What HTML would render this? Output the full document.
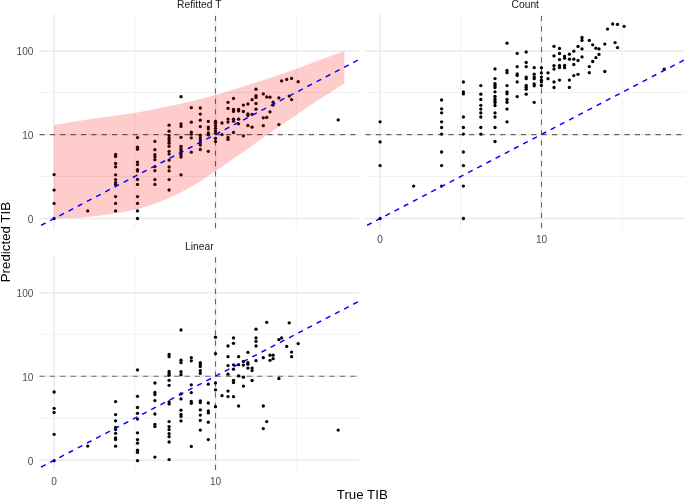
<!DOCTYPE html>
<html><head><meta charset="utf-8"><title>TIB</title>
<style>
html,body{margin:0;padding:0;background:#fff;}
svg{display:block;}
text{font-family:"Liberation Sans",Arial,Helvetica,sans-serif;}
.st{font-size:10.3px;fill:#1a1a1a;}
.ax{font-size:10.1px;fill:#4d4d4d;}
.ti{font-size:13.3px;fill:#000;}
circle{fill:#000;}
</style></head><body>
<svg width="685" height="500" viewBox="0 0 685 500">
<rect width="685" height="500" fill="#fff"/>
<g>
<line x1="134.65" x2="134.65" y1="14.2" y2="228.3" stroke="#ebebeb" stroke-width="0.7"/>
<line x1="296.20" x2="296.20" y1="14.2" y2="228.3" stroke="#ebebeb" stroke-width="0.7"/>
<line x1="39.5" x2="359.0" y1="92.50" y2="92.50" stroke="#ebebeb" stroke-width="0.7"/>
<line x1="39.5" x2="359.0" y1="176.50" y2="176.50" stroke="#ebebeb" stroke-width="0.7"/>
<line x1="54.05" x2="54.05" y1="14.2" y2="228.3" stroke="#ebebeb" stroke-width="1.5"/>
<line x1="215.50" x2="215.50" y1="14.2" y2="228.3" stroke="#ebebeb" stroke-width="1.5"/>
<line x1="39.5" x2="359.0" y1="51.00" y2="51.00" stroke="#ebebeb" stroke-width="1.5"/>
<line x1="39.5" x2="359.0" y1="134.60" y2="134.60" stroke="#ebebeb" stroke-width="1.5"/>
<line x1="39.5" x2="359.0" y1="218.60" y2="218.60" stroke="#ebebeb" stroke-width="1.5"/>
<circle cx="54.1" cy="174.6" r="1.65"/>
<circle cx="54.1" cy="190.1" r="1.65"/>
<circle cx="54.1" cy="203.4" r="1.65"/>
<circle cx="54.1" cy="218.5" r="1.65"/>
<circle cx="87.7" cy="210.9" r="1.65"/>
<circle cx="115.6" cy="154.5" r="1.65"/>
<circle cx="115.6" cy="156.5" r="1.65"/>
<circle cx="115.6" cy="163.5" r="1.65"/>
<circle cx="115.6" cy="166.8" r="1.65"/>
<circle cx="115.6" cy="174.8" r="1.65"/>
<circle cx="115.6" cy="179.6" r="1.65"/>
<circle cx="115.6" cy="182.6" r="1.65"/>
<circle cx="115.6" cy="184.6" r="1.65"/>
<circle cx="115.6" cy="196.6" r="1.65"/>
<circle cx="115.6" cy="203.4" r="1.65"/>
<circle cx="115.6" cy="210.9" r="1.65"/>
<circle cx="137.5" cy="137.6" r="1.65"/>
<circle cx="137.5" cy="147.2" r="1.65"/>
<circle cx="137.5" cy="149.3" r="1.65"/>
<circle cx="137.5" cy="162.1" r="1.65"/>
<circle cx="137.5" cy="164.6" r="1.65"/>
<circle cx="137.5" cy="169.6" r="1.65"/>
<circle cx="137.5" cy="171.0" r="1.65"/>
<circle cx="137.5" cy="179.4" r="1.65"/>
<circle cx="137.5" cy="184.4" r="1.65"/>
<circle cx="137.5" cy="196.6" r="1.65"/>
<circle cx="137.5" cy="203.4" r="1.65"/>
<circle cx="137.5" cy="210.9" r="1.65"/>
<circle cx="137.5" cy="218.5" r="1.65"/>
<circle cx="154.9" cy="141.4" r="1.65"/>
<circle cx="154.9" cy="149.7" r="1.65"/>
<circle cx="154.9" cy="154.6" r="1.65"/>
<circle cx="154.9" cy="156.8" r="1.65"/>
<circle cx="154.9" cy="159.7" r="1.65"/>
<circle cx="154.9" cy="166.6" r="1.65"/>
<circle cx="154.9" cy="170.7" r="1.65"/>
<circle cx="154.9" cy="179.6" r="1.65"/>
<circle cx="154.9" cy="184.4" r="1.65"/>
<circle cx="169.1" cy="125.2" r="1.65"/>
<circle cx="169.1" cy="131.2" r="1.65"/>
<circle cx="169.1" cy="135.6" r="1.65"/>
<circle cx="169.1" cy="138.2" r="1.65"/>
<circle cx="169.1" cy="140.7" r="1.65"/>
<circle cx="169.1" cy="143.2" r="1.65"/>
<circle cx="169.1" cy="146.3" r="1.65"/>
<circle cx="169.1" cy="151.3" r="1.65"/>
<circle cx="169.1" cy="154.1" r="1.65"/>
<circle cx="169.1" cy="160.1" r="1.65"/>
<circle cx="169.1" cy="167.0" r="1.65"/>
<circle cx="169.1" cy="170.8" r="1.65"/>
<circle cx="169.1" cy="179.6" r="1.65"/>
<circle cx="169.1" cy="190.0" r="1.65"/>
<circle cx="181.0" cy="96.7" r="1.65"/>
<circle cx="181.0" cy="123.9" r="1.65"/>
<circle cx="181.0" cy="126.4" r="1.65"/>
<circle cx="181.0" cy="137.3" r="1.65"/>
<circle cx="181.0" cy="146.3" r="1.65"/>
<circle cx="181.0" cy="148.8" r="1.65"/>
<circle cx="181.0" cy="150.7" r="1.65"/>
<circle cx="181.0" cy="153.0" r="1.65"/>
<circle cx="181.0" cy="155.1" r="1.65"/>
<circle cx="181.0" cy="157.0" r="1.65"/>
<circle cx="181.0" cy="174.8" r="1.65"/>
<circle cx="191.3" cy="107.7" r="1.65"/>
<circle cx="191.3" cy="122.2" r="1.65"/>
<circle cx="191.3" cy="132.1" r="1.65"/>
<circle cx="191.3" cy="134.2" r="1.65"/>
<circle cx="191.3" cy="137.8" r="1.65"/>
<circle cx="191.3" cy="152.2" r="1.65"/>
<circle cx="200.3" cy="108.0" r="1.65"/>
<circle cx="200.3" cy="114.1" r="1.65"/>
<circle cx="200.3" cy="120.2" r="1.65"/>
<circle cx="200.3" cy="126.6" r="1.65"/>
<circle cx="200.3" cy="135.2" r="1.65"/>
<circle cx="200.3" cy="137.6" r="1.65"/>
<circle cx="200.3" cy="140.0" r="1.65"/>
<circle cx="200.3" cy="142.6" r="1.65"/>
<circle cx="200.3" cy="145.1" r="1.65"/>
<circle cx="200.3" cy="149.5" r="1.65"/>
<circle cx="208.3" cy="121.4" r="1.65"/>
<circle cx="208.3" cy="127.1" r="1.65"/>
<circle cx="208.3" cy="128.9" r="1.65"/>
<circle cx="208.3" cy="133.0" r="1.65"/>
<circle cx="208.3" cy="134.8" r="1.65"/>
<circle cx="208.3" cy="151.3" r="1.65"/>
<circle cx="215.5" cy="121.4" r="1.65"/>
<circle cx="215.5" cy="123.2" r="1.65"/>
<circle cx="215.5" cy="125.8" r="1.65"/>
<circle cx="215.5" cy="128.3" r="1.65"/>
<circle cx="215.5" cy="130.8" r="1.65"/>
<circle cx="215.5" cy="133.3" r="1.65"/>
<circle cx="215.5" cy="138.3" r="1.65"/>
<circle cx="215.5" cy="141.6" r="1.65"/>
<circle cx="222.0" cy="123.0" r="1.65"/>
<circle cx="222.0" cy="134.6" r="1.65"/>
<circle cx="228.0" cy="102.3" r="1.65"/>
<circle cx="228.0" cy="108.4" r="1.65"/>
<circle cx="228.0" cy="119.1" r="1.65"/>
<circle cx="228.0" cy="122.1" r="1.65"/>
<circle cx="228.0" cy="137.4" r="1.65"/>
<circle cx="228.0" cy="139.4" r="1.65"/>
<circle cx="233.5" cy="98.4" r="1.65"/>
<circle cx="233.5" cy="109.5" r="1.65"/>
<circle cx="233.5" cy="111.4" r="1.65"/>
<circle cx="233.5" cy="119.2" r="1.65"/>
<circle cx="233.5" cy="121.2" r="1.65"/>
<circle cx="233.5" cy="132.4" r="1.65"/>
<circle cx="238.6" cy="109.3" r="1.65"/>
<circle cx="238.6" cy="110.9" r="1.65"/>
<circle cx="238.6" cy="119.2" r="1.65"/>
<circle cx="238.6" cy="123.8" r="1.65"/>
<circle cx="243.4" cy="105.1" r="1.65"/>
<circle cx="243.4" cy="111.5" r="1.65"/>
<circle cx="243.4" cy="135.8" r="1.65"/>
<circle cx="247.9" cy="104.0" r="1.65"/>
<circle cx="247.9" cy="113.9" r="1.65"/>
<circle cx="247.9" cy="115.4" r="1.65"/>
<circle cx="247.9" cy="125.5" r="1.65"/>
<circle cx="252.1" cy="99.7" r="1.65"/>
<circle cx="252.1" cy="114.3" r="1.65"/>
<circle cx="252.1" cy="127.2" r="1.65"/>
<circle cx="256.0" cy="89.2" r="1.65"/>
<circle cx="256.0" cy="95.7" r="1.65"/>
<circle cx="256.0" cy="97.4" r="1.65"/>
<circle cx="256.0" cy="103.5" r="1.65"/>
<circle cx="256.0" cy="109.2" r="1.65"/>
<circle cx="263.3" cy="93.9" r="1.65"/>
<circle cx="263.3" cy="117.8" r="1.65"/>
<circle cx="263.3" cy="125.7" r="1.65"/>
<circle cx="266.7" cy="97.0" r="1.65"/>
<circle cx="266.7" cy="117.4" r="1.65"/>
<circle cx="270.0" cy="97.2" r="1.65"/>
<circle cx="270.0" cy="111.8" r="1.65"/>
<circle cx="273.1" cy="102.2" r="1.65"/>
<circle cx="273.1" cy="105.1" r="1.65"/>
<circle cx="278.9" cy="97.9" r="1.65"/>
<circle cx="278.9" cy="124.6" r="1.65"/>
<circle cx="281.6" cy="80.9" r="1.65"/>
<circle cx="286.7" cy="79.4" r="1.65"/>
<circle cx="289.2" cy="96.1" r="1.65"/>
<circle cx="291.6" cy="78.4" r="1.65"/>
<circle cx="291.6" cy="99.6" r="1.65"/>
<circle cx="298.2" cy="81.7" r="1.65"/>
<circle cx="338.2" cy="119.9" r="1.65"/>
<path d="M54.0,124.9 L90.3,119.1 L134.7,112.9 L165.6,107.0 L190.8,101.6 L215.6,95.0 L240.3,87.4 L265.4,79.5 L280.0,74.5 L296.8,68.7 L315.6,61.6 L344.4,51.1 L344.4,83.6 L315.6,101.7 L296.6,114.8 L267.7,134.5 L250.0,147.2 L230.1,161.1 L215.6,171.1 L208.0,176.1 L200.5,181.1 L191.7,186.6 L180.9,192.4 L169.1,197.9 L154.8,203.7 L137.2,209.2 L115.6,213.5 L100.0,215.5 L80.0,217.8 L54.0,218.6Z" fill="#ff0000" fill-opacity="0.2"/>
<line x1="215.50" x2="215.50" y1="228.3" y2="14.2" stroke="#000" stroke-opacity="0.56" stroke-width="1.1" stroke-dasharray="5.18 5.18"/>
<line x1="39.5" x2="359.0" y1="134.60" y2="134.60" stroke="#000" stroke-opacity="0.56" stroke-width="1.1" stroke-dasharray="5.18 5.18"/>
<line x1="41.0" y1="225.41" x2="357.8" y2="60.20" stroke="#0000ff" stroke-width="1.45" stroke-dasharray="5.18 5.18"/>
<text x="199.25" y="7.6" text-anchor="middle" class="st">Refitted T</text>
</g>
<g>
<line x1="460.65" x2="460.65" y1="14.2" y2="228.3" stroke="#ebebeb" stroke-width="0.7"/>
<line x1="622.20" x2="622.20" y1="14.2" y2="228.3" stroke="#ebebeb" stroke-width="0.7"/>
<line x1="365.5" x2="685.0" y1="92.50" y2="92.50" stroke="#ebebeb" stroke-width="0.7"/>
<line x1="365.5" x2="685.0" y1="176.50" y2="176.50" stroke="#ebebeb" stroke-width="0.7"/>
<line x1="380.05" x2="380.05" y1="14.2" y2="228.3" stroke="#ebebeb" stroke-width="1.5"/>
<line x1="541.50" x2="541.50" y1="14.2" y2="228.3" stroke="#ebebeb" stroke-width="1.5"/>
<line x1="365.5" x2="685.0" y1="51.00" y2="51.00" stroke="#ebebeb" stroke-width="1.5"/>
<line x1="365.5" x2="685.0" y1="134.60" y2="134.60" stroke="#ebebeb" stroke-width="1.5"/>
<line x1="365.5" x2="685.0" y1="218.60" y2="218.60" stroke="#ebebeb" stroke-width="1.5"/>
<circle cx="380.1" cy="121.8" r="1.65"/>
<circle cx="380.1" cy="141.9" r="1.65"/>
<circle cx="380.1" cy="165.6" r="1.65"/>
<circle cx="380.1" cy="218.5" r="1.65"/>
<circle cx="413.6" cy="186.1" r="1.65"/>
<circle cx="441.6" cy="100.0" r="1.65"/>
<circle cx="441.6" cy="108.8" r="1.65"/>
<circle cx="441.6" cy="112.8" r="1.65"/>
<circle cx="441.6" cy="121.8" r="1.65"/>
<circle cx="441.6" cy="127.5" r="1.65"/>
<circle cx="441.6" cy="134.1" r="1.65"/>
<circle cx="441.6" cy="152.0" r="1.65"/>
<circle cx="441.6" cy="165.6" r="1.65"/>
<circle cx="441.6" cy="186.1" r="1.65"/>
<circle cx="463.4" cy="82.0" r="1.65"/>
<circle cx="463.4" cy="92.0" r="1.65"/>
<circle cx="463.4" cy="93.9" r="1.65"/>
<circle cx="463.4" cy="117.0" r="1.65"/>
<circle cx="463.4" cy="127.5" r="1.65"/>
<circle cx="463.4" cy="134.1" r="1.65"/>
<circle cx="463.4" cy="152.0" r="1.65"/>
<circle cx="463.4" cy="165.6" r="1.65"/>
<circle cx="463.4" cy="186.1" r="1.65"/>
<circle cx="463.4" cy="218.5" r="1.65"/>
<circle cx="480.8" cy="85.6" r="1.65"/>
<circle cx="480.8" cy="94.2" r="1.65"/>
<circle cx="480.8" cy="99.5" r="1.65"/>
<circle cx="480.8" cy="105.3" r="1.65"/>
<circle cx="480.8" cy="109.1" r="1.65"/>
<circle cx="480.8" cy="112.9" r="1.65"/>
<circle cx="480.8" cy="117.0" r="1.65"/>
<circle cx="480.8" cy="127.5" r="1.65"/>
<circle cx="480.8" cy="134.1" r="1.65"/>
<circle cx="495.0" cy="68.9" r="1.65"/>
<circle cx="495.0" cy="78.6" r="1.65"/>
<circle cx="495.0" cy="83.6" r="1.65"/>
<circle cx="495.0" cy="85.5" r="1.65"/>
<circle cx="495.0" cy="87.5" r="1.65"/>
<circle cx="495.0" cy="91.8" r="1.65"/>
<circle cx="495.0" cy="96.3" r="1.65"/>
<circle cx="495.0" cy="98.8" r="1.65"/>
<circle cx="495.0" cy="100.7" r="1.65"/>
<circle cx="495.0" cy="102.6" r="1.65"/>
<circle cx="495.0" cy="105.5" r="1.65"/>
<circle cx="495.0" cy="112.9" r="1.65"/>
<circle cx="495.0" cy="117.0" r="1.65"/>
<circle cx="495.0" cy="127.5" r="1.65"/>
<circle cx="495.0" cy="141.5" r="1.65"/>
<circle cx="507.0" cy="43.2" r="1.65"/>
<circle cx="507.0" cy="70.4" r="1.65"/>
<circle cx="507.0" cy="72.7" r="1.65"/>
<circle cx="507.0" cy="85.6" r="1.65"/>
<circle cx="507.0" cy="91.8" r="1.65"/>
<circle cx="507.0" cy="93.8" r="1.65"/>
<circle cx="507.0" cy="99.5" r="1.65"/>
<circle cx="507.0" cy="102.3" r="1.65"/>
<circle cx="507.0" cy="109.1" r="1.65"/>
<circle cx="507.0" cy="121.8" r="1.65"/>
<circle cx="517.2" cy="53.4" r="1.65"/>
<circle cx="517.2" cy="66.7" r="1.65"/>
<circle cx="517.2" cy="73.9" r="1.65"/>
<circle cx="517.2" cy="75.4" r="1.65"/>
<circle cx="517.2" cy="81.9" r="1.65"/>
<circle cx="517.2" cy="96.6" r="1.65"/>
<circle cx="526.2" cy="52.0" r="1.65"/>
<circle cx="526.2" cy="62.4" r="1.65"/>
<circle cx="526.2" cy="66.7" r="1.65"/>
<circle cx="526.2" cy="77.1" r="1.65"/>
<circle cx="526.2" cy="78.7" r="1.65"/>
<circle cx="526.2" cy="85.4" r="1.65"/>
<circle cx="526.2" cy="87.3" r="1.65"/>
<circle cx="526.2" cy="89.2" r="1.65"/>
<circle cx="526.2" cy="94.2" r="1.65"/>
<circle cx="534.2" cy="67.7" r="1.65"/>
<circle cx="534.2" cy="74.2" r="1.65"/>
<circle cx="534.2" cy="77.1" r="1.65"/>
<circle cx="534.2" cy="78.7" r="1.65"/>
<circle cx="534.2" cy="83.9" r="1.65"/>
<circle cx="534.2" cy="85.8" r="1.65"/>
<circle cx="534.2" cy="102.3" r="1.65"/>
<circle cx="541.4" cy="67.7" r="1.65"/>
<circle cx="541.4" cy="72.9" r="1.65"/>
<circle cx="541.4" cy="77.1" r="1.65"/>
<circle cx="541.4" cy="80.2" r="1.65"/>
<circle cx="541.4" cy="81.9" r="1.65"/>
<circle cx="541.4" cy="85.5" r="1.65"/>
<circle cx="548.0" cy="72.8" r="1.65"/>
<circle cx="548.0" cy="78.7" r="1.65"/>
<circle cx="554.0" cy="46.3" r="1.65"/>
<circle cx="554.0" cy="55.9" r="1.65"/>
<circle cx="554.0" cy="65.6" r="1.65"/>
<circle cx="554.0" cy="69.0" r="1.65"/>
<circle cx="554.0" cy="81.9" r="1.65"/>
<circle cx="554.0" cy="87.5" r="1.65"/>
<circle cx="559.5" cy="48.4" r="1.65"/>
<circle cx="559.5" cy="53.5" r="1.65"/>
<circle cx="559.5" cy="59.6" r="1.65"/>
<circle cx="559.5" cy="65.6" r="1.65"/>
<circle cx="559.5" cy="67.5" r="1.65"/>
<circle cx="559.5" cy="80.1" r="1.65"/>
<circle cx="564.6" cy="56.1" r="1.65"/>
<circle cx="564.6" cy="58.2" r="1.65"/>
<circle cx="564.6" cy="65.5" r="1.65"/>
<circle cx="564.6" cy="67.7" r="1.65"/>
<circle cx="569.4" cy="54.2" r="1.65"/>
<circle cx="569.4" cy="59.2" r="1.65"/>
<circle cx="569.4" cy="80.1" r="1.65"/>
<circle cx="569.4" cy="87.4" r="1.65"/>
<circle cx="573.8" cy="51.2" r="1.65"/>
<circle cx="573.8" cy="59.2" r="1.65"/>
<circle cx="573.8" cy="64.5" r="1.65"/>
<circle cx="573.8" cy="75.6" r="1.65"/>
<circle cx="578.0" cy="46.4" r="1.65"/>
<circle cx="578.0" cy="60.5" r="1.65"/>
<circle cx="578.0" cy="74.3" r="1.65"/>
<circle cx="582.0" cy="37.5" r="1.65"/>
<circle cx="582.0" cy="40.4" r="1.65"/>
<circle cx="582.0" cy="48.9" r="1.65"/>
<circle cx="582.0" cy="56.9" r="1.65"/>
<circle cx="589.3" cy="40.4" r="1.65"/>
<circle cx="589.3" cy="66.6" r="1.65"/>
<circle cx="589.3" cy="72.7" r="1.65"/>
<circle cx="592.7" cy="44.8" r="1.65"/>
<circle cx="592.7" cy="61.5" r="1.65"/>
<circle cx="595.9" cy="48.2" r="1.65"/>
<circle cx="595.9" cy="57.7" r="1.65"/>
<circle cx="599.0" cy="48.9" r="1.65"/>
<circle cx="599.0" cy="54.4" r="1.65"/>
<circle cx="604.8" cy="44.1" r="1.65"/>
<circle cx="604.8" cy="71.5" r="1.65"/>
<circle cx="607.5" cy="29.1" r="1.65"/>
<circle cx="612.7" cy="24.0" r="1.65"/>
<circle cx="615.1" cy="42.6" r="1.65"/>
<circle cx="617.5" cy="24.4" r="1.65"/>
<circle cx="617.5" cy="47.6" r="1.65"/>
<circle cx="624.1" cy="26.3" r="1.65"/>
<circle cx="664.2" cy="69.2" r="1.65"/>
<line x1="541.50" x2="541.50" y1="228.3" y2="14.2" stroke="#000" stroke-opacity="0.56" stroke-width="1.1" stroke-dasharray="5.18 5.18"/>
<line x1="365.5" x2="685.0" y1="134.60" y2="134.60" stroke="#000" stroke-opacity="0.56" stroke-width="1.1" stroke-dasharray="5.18 5.18"/>
<line x1="367.0" y1="225.41" x2="683.8" y2="60.20" stroke="#0000ff" stroke-width="1.45" stroke-dasharray="5.18 5.18"/>
<text x="525.25" y="7.6" text-anchor="middle" class="st">Count</text>
</g>
<g>
<line x1="134.65" x2="134.65" y1="255.9" y2="470.0" stroke="#ebebeb" stroke-width="0.7"/>
<line x1="296.20" x2="296.20" y1="255.9" y2="470.0" stroke="#ebebeb" stroke-width="0.7"/>
<line x1="39.5" x2="359.0" y1="334.20" y2="334.20" stroke="#ebebeb" stroke-width="0.7"/>
<line x1="39.5" x2="359.0" y1="418.20" y2="418.20" stroke="#ebebeb" stroke-width="0.7"/>
<line x1="54.05" x2="54.05" y1="255.9" y2="470.0" stroke="#ebebeb" stroke-width="1.5"/>
<line x1="215.50" x2="215.50" y1="255.9" y2="470.0" stroke="#ebebeb" stroke-width="1.5"/>
<line x1="39.5" x2="359.0" y1="292.70" y2="292.70" stroke="#ebebeb" stroke-width="1.5"/>
<line x1="39.5" x2="359.0" y1="376.30" y2="376.30" stroke="#ebebeb" stroke-width="1.5"/>
<line x1="39.5" x2="359.0" y1="460.30" y2="460.30" stroke="#ebebeb" stroke-width="1.5"/>
<circle cx="54.1" cy="392.0" r="1.65"/>
<circle cx="54.1" cy="408.3" r="1.65"/>
<circle cx="54.1" cy="412.5" r="1.65"/>
<circle cx="54.1" cy="434.3" r="1.65"/>
<circle cx="54.1" cy="460.7" r="1.65"/>
<circle cx="87.7" cy="446.1" r="1.65"/>
<circle cx="115.6" cy="401.6" r="1.65"/>
<circle cx="115.6" cy="414.6" r="1.65"/>
<circle cx="115.6" cy="420.8" r="1.65"/>
<circle cx="115.6" cy="427.4" r="1.65"/>
<circle cx="115.6" cy="429.6" r="1.65"/>
<circle cx="115.6" cy="433.3" r="1.65"/>
<circle cx="115.6" cy="437.9" r="1.65"/>
<circle cx="115.6" cy="439.6" r="1.65"/>
<circle cx="115.6" cy="446.2" r="1.65"/>
<circle cx="137.5" cy="369.9" r="1.65"/>
<circle cx="137.5" cy="396.3" r="1.65"/>
<circle cx="137.5" cy="407.5" r="1.65"/>
<circle cx="137.5" cy="413.3" r="1.65"/>
<circle cx="137.5" cy="419.1" r="1.65"/>
<circle cx="137.5" cy="432.8" r="1.65"/>
<circle cx="137.5" cy="439.6" r="1.65"/>
<circle cx="137.5" cy="443.2" r="1.65"/>
<circle cx="137.5" cy="450.2" r="1.65"/>
<circle cx="137.5" cy="452.4" r="1.65"/>
<circle cx="137.5" cy="460.7" r="1.65"/>
<circle cx="154.9" cy="383.0" r="1.65"/>
<circle cx="154.9" cy="392.4" r="1.65"/>
<circle cx="154.9" cy="394.6" r="1.65"/>
<circle cx="154.9" cy="400.6" r="1.65"/>
<circle cx="154.9" cy="414.0" r="1.65"/>
<circle cx="154.9" cy="424.5" r="1.65"/>
<circle cx="154.9" cy="426.6" r="1.65"/>
<circle cx="154.9" cy="457.1" r="1.65"/>
<circle cx="169.1" cy="354.5" r="1.65"/>
<circle cx="169.1" cy="356.7" r="1.65"/>
<circle cx="169.1" cy="371.5" r="1.65"/>
<circle cx="169.1" cy="373.4" r="1.65"/>
<circle cx="169.1" cy="375.2" r="1.65"/>
<circle cx="169.1" cy="380.3" r="1.65"/>
<circle cx="169.1" cy="385.3" r="1.65"/>
<circle cx="169.1" cy="402.0" r="1.65"/>
<circle cx="169.1" cy="403.9" r="1.65"/>
<circle cx="169.1" cy="421.6" r="1.65"/>
<circle cx="169.1" cy="426.6" r="1.65"/>
<circle cx="169.1" cy="429.6" r="1.65"/>
<circle cx="169.1" cy="433.6" r="1.65"/>
<circle cx="169.1" cy="436.7" r="1.65"/>
<circle cx="169.1" cy="442.0" r="1.65"/>
<circle cx="169.1" cy="459.6" r="1.65"/>
<circle cx="181.0" cy="330.0" r="1.65"/>
<circle cx="181.0" cy="360.2" r="1.65"/>
<circle cx="181.0" cy="362.7" r="1.65"/>
<circle cx="181.0" cy="371.7" r="1.65"/>
<circle cx="181.0" cy="374.7" r="1.65"/>
<circle cx="181.0" cy="393.9" r="1.65"/>
<circle cx="181.0" cy="398.9" r="1.65"/>
<circle cx="181.0" cy="410.2" r="1.65"/>
<circle cx="181.0" cy="414.5" r="1.65"/>
<circle cx="181.0" cy="416.4" r="1.65"/>
<circle cx="181.0" cy="420.9" r="1.65"/>
<circle cx="191.3" cy="357.7" r="1.65"/>
<circle cx="191.3" cy="360.8" r="1.65"/>
<circle cx="191.3" cy="384.8" r="1.65"/>
<circle cx="191.3" cy="392.6" r="1.65"/>
<circle cx="191.3" cy="401.4" r="1.65"/>
<circle cx="191.3" cy="403.3" r="1.65"/>
<circle cx="191.3" cy="446.4" r="1.65"/>
<circle cx="200.3" cy="362.7" r="1.65"/>
<circle cx="200.3" cy="364.6" r="1.65"/>
<circle cx="200.3" cy="366.5" r="1.65"/>
<circle cx="200.3" cy="370.6" r="1.65"/>
<circle cx="200.3" cy="373.3" r="1.65"/>
<circle cx="200.3" cy="400.8" r="1.65"/>
<circle cx="200.3" cy="402.6" r="1.65"/>
<circle cx="200.3" cy="409.9" r="1.65"/>
<circle cx="200.3" cy="415.1" r="1.65"/>
<circle cx="200.3" cy="420.4" r="1.65"/>
<circle cx="200.3" cy="430.1" r="1.65"/>
<circle cx="208.3" cy="384.2" r="1.65"/>
<circle cx="208.3" cy="403.0" r="1.65"/>
<circle cx="208.3" cy="410.9" r="1.65"/>
<circle cx="208.3" cy="412.9" r="1.65"/>
<circle cx="208.3" cy="422.2" r="1.65"/>
<circle cx="208.3" cy="439.6" r="1.65"/>
<circle cx="215.5" cy="337.2" r="1.65"/>
<circle cx="215.5" cy="353.6" r="1.65"/>
<circle cx="215.5" cy="382.9" r="1.65"/>
<circle cx="215.5" cy="389.8" r="1.65"/>
<circle cx="215.5" cy="406.7" r="1.65"/>
<circle cx="222.0" cy="395.7" r="1.65"/>
<circle cx="228.0" cy="346.0" r="1.65"/>
<circle cx="228.0" cy="356.7" r="1.65"/>
<circle cx="228.0" cy="365.6" r="1.65"/>
<circle cx="228.0" cy="374.2" r="1.65"/>
<circle cx="228.0" cy="391.1" r="1.65"/>
<circle cx="228.0" cy="396.6" r="1.65"/>
<circle cx="233.5" cy="337.9" r="1.65"/>
<circle cx="233.5" cy="343.3" r="1.65"/>
<circle cx="233.5" cy="364.8" r="1.65"/>
<circle cx="233.5" cy="369.2" r="1.65"/>
<circle cx="233.5" cy="380.3" r="1.65"/>
<circle cx="233.5" cy="382.6" r="1.65"/>
<circle cx="233.5" cy="396.7" r="1.65"/>
<circle cx="238.6" cy="356.7" r="1.65"/>
<circle cx="238.6" cy="364.7" r="1.65"/>
<circle cx="238.6" cy="375.9" r="1.65"/>
<circle cx="238.6" cy="406.0" r="1.65"/>
<circle cx="243.4" cy="361.5" r="1.65"/>
<circle cx="243.4" cy="365.1" r="1.65"/>
<circle cx="243.4" cy="377.2" r="1.65"/>
<circle cx="243.4" cy="386.1" r="1.65"/>
<circle cx="247.9" cy="352.3" r="1.65"/>
<circle cx="247.9" cy="362.7" r="1.65"/>
<circle cx="247.9" cy="364.2" r="1.65"/>
<circle cx="247.9" cy="368.1" r="1.65"/>
<circle cx="252.1" cy="368.1" r="1.65"/>
<circle cx="252.1" cy="370.6" r="1.65"/>
<circle cx="252.1" cy="380.5" r="1.65"/>
<circle cx="256.0" cy="329.2" r="1.65"/>
<circle cx="256.0" cy="337.9" r="1.65"/>
<circle cx="256.0" cy="341.4" r="1.65"/>
<circle cx="256.0" cy="346.0" r="1.65"/>
<circle cx="256.0" cy="360.7" r="1.65"/>
<circle cx="263.3" cy="357.7" r="1.65"/>
<circle cx="263.3" cy="406.0" r="1.65"/>
<circle cx="263.3" cy="428.6" r="1.65"/>
<circle cx="266.7" cy="322.3" r="1.65"/>
<circle cx="266.7" cy="421.6" r="1.65"/>
<circle cx="270.0" cy="355.2" r="1.65"/>
<circle cx="270.0" cy="360.3" r="1.65"/>
<circle cx="273.1" cy="355.2" r="1.65"/>
<circle cx="273.1" cy="358.7" r="1.65"/>
<circle cx="278.9" cy="339.6" r="1.65"/>
<circle cx="278.9" cy="378.5" r="1.65"/>
<circle cx="281.6" cy="338.0" r="1.65"/>
<circle cx="286.7" cy="346.4" r="1.65"/>
<circle cx="289.2" cy="322.8" r="1.65"/>
<circle cx="291.6" cy="352.1" r="1.65"/>
<circle cx="291.6" cy="356.7" r="1.65"/>
<circle cx="298.2" cy="343.6" r="1.65"/>
<circle cx="338.2" cy="430.1" r="1.65"/>
<line x1="215.50" x2="215.50" y1="470.0" y2="255.9" stroke="#000" stroke-opacity="0.56" stroke-width="1.1" stroke-dasharray="5.18 5.18"/>
<line x1="39.5" x2="359.0" y1="376.30" y2="376.30" stroke="#000" stroke-opacity="0.56" stroke-width="1.1" stroke-dasharray="5.18 5.18"/>
<line x1="41.0" y1="467.11" x2="357.8" y2="301.90" stroke="#0000ff" stroke-width="1.45" stroke-dasharray="5.18 5.18"/>
<text x="199.25" y="250.0" text-anchor="middle" class="st">Linear</text>
</g>
<text x="33.4" y="55.40" text-anchor="end" class="ax">100</text>
<text x="33.4" y="139.00" text-anchor="end" class="ax">10</text>
<text x="33.4" y="223.00" text-anchor="end" class="ax">0</text>
<text x="33.4" y="297.10" text-anchor="end" class="ax">100</text>
<text x="33.4" y="380.70" text-anchor="end" class="ax">10</text>
<text x="33.4" y="464.70" text-anchor="end" class="ax">0</text>
<text x="380.05" y="243.00" text-anchor="middle" class="ax">0</text>
<text x="541.50" y="243.00" text-anchor="middle" class="ax">10</text>
<text x="54.05" y="484.70" text-anchor="middle" class="ax">0</text>
<text x="215.50" y="484.70" text-anchor="middle" class="ax">10</text>
<text x="362.3" y="499.4" text-anchor="middle" class="ti">True TIB</text>
<text transform="translate(9.5,242.1) rotate(-90)" text-anchor="middle" class="ti">Predicted TIB</text>
</svg></body></html>
